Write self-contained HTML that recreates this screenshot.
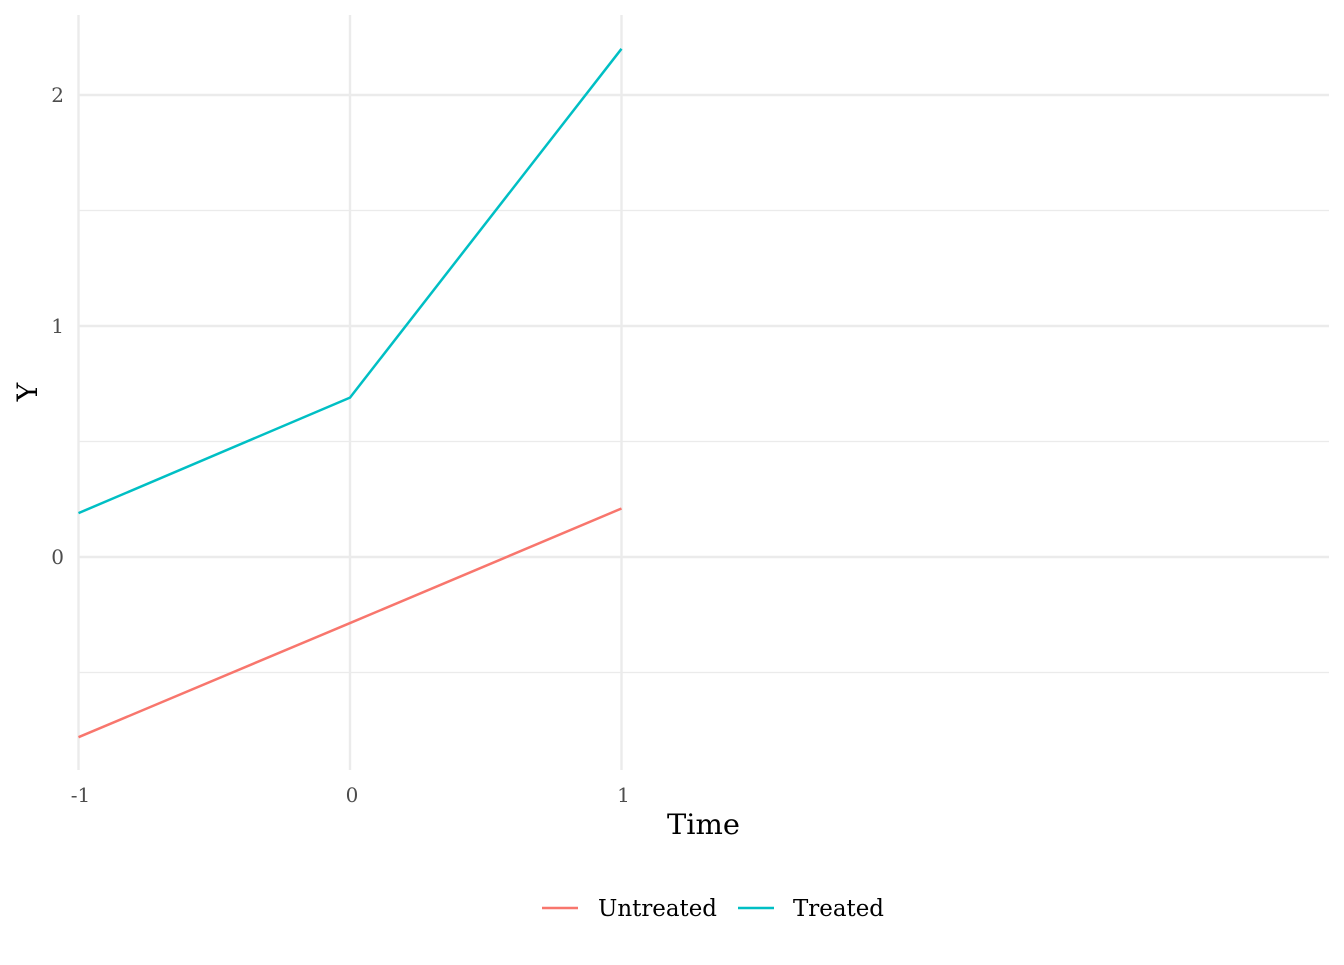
<!DOCTYPE html>
<html><head><meta charset="utf-8"><style>
body{margin:0;background:#fff}
svg text{font-family:"DejaVu Serif","Liberation Serif",serif}
</style></head><body>
<svg id="chart" width="1344" height="960" viewBox="0 0 1344 960" xmlns="http://www.w3.org/2000/svg">
<g id="grid"></g>
<g id="series"></g>
<g id="ticks"></g>
<text x="667" y="834" font-size="28" textLength="73" lengthAdjust="spacingAndGlyphs" fill="#000">Time</text>
<text transform="translate(37,392) rotate(-90)" font-size="28" text-anchor="middle" fill="#000">Y</text>
<g>
<g>
<line x1="542" y1="908" x2="578" y2="908" stroke="#F8766D" stroke-width="2.5"/>
<text x="598" y="916" font-size="23" textLength="119" lengthAdjust="spacingAndGlyphs" fill="#000">Untreated</text></g>
<g>
<line x1="738" y1="908" x2="774" y2="908" stroke="#00BFC4" stroke-width="2.5"/>
<text x="793" y="916" font-size="23" textLength="91" lengthAdjust="spacingAndGlyphs" fill="#000">Treated</text></g>
</g>
</svg>
<script>
const times = [-1, 0, 1];
const untreated = [-0.78, -0.286, 0.21];
const treated = [0.19, 0.69, 2.20];
const yTicks = [0, 1, 2];
const yMinor = [-0.5, 0.5, 1.5];
const xTickLabels = ["-1", "0", "1"];

const NS = "http://www.w3.org/2000/svg";
const X0 = 79, X1 = 1329, Y0 = 15, Y1 = 770;
function sx(v){ return 350 + v * 271.5; }
function sy(v){ return 557 - v * 231; }
function mk(tag, attrs, parent){
  const e = document.createElementNS(NS, tag);
  for (const k in attrs) e.setAttribute(k, attrs[k]);
  parent.appendChild(e); return e;
}
const grid = document.getElementById('grid');
const ticks = document.getElementById('ticks');
yMinor.forEach(v => {
  const l = mk('line', {x1:X0, x2:X1, y1:sy(v), y2:sy(v), stroke:'#ebebeb', 'stroke-width':1.2}, grid);
  
  
});
yTicks.forEach(v => {
  const l = mk('line', {x1:X0, x2:X1, y1:sy(v), y2:sy(v), stroke:'#ebebeb', 'stroke-width':2.4}, grid);
  
  
  const t = mk('text', {x:64, y:sy(v)+7, 'font-size':20, 'text-anchor':'end', fill:'#4d4d4d'}, ticks);
  t.textContent = String(v);
  
  
});
times.forEach((v, i) => {
  const l = mk('line', {x1:sx(v), x2:sx(v), y1:Y0, y2:Y1, stroke:'#ebebeb', 'stroke-width':2.4}, grid);
  
  
  const t = mk('text', {x:sx(v)+2, y:802, 'font-size':20, 'text-anchor':'middle', fill:'#4d4d4d'}, ticks);
  t.textContent = xTickLabels[i];
  
  
});
const series = document.getElementById('series');
[[untreated, '#F8766D', 'line-untreated'], [treated, '#00BFC4', 'line-treated']].forEach(([vals, col, name]) => {
  const pts = vals.map((v, i) => sx(times[i]) + ',' + sy(v)).join(' ');
  const p = mk('polyline', {points:pts, fill:'none', stroke:col, 'stroke-width':2.5}, series);
  
  
});
</script>
</body></html>
